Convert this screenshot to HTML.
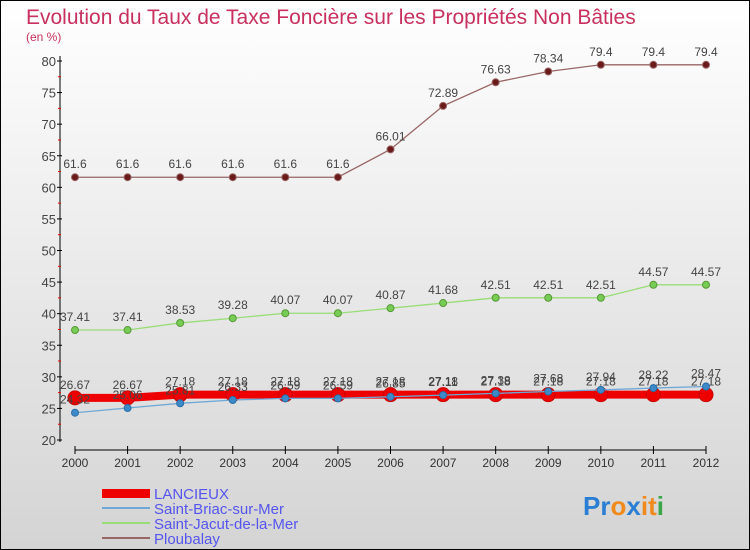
<!DOCTYPE html>
<html><head><meta charset="utf-8"><style>
body{margin:0;width:750px;height:550px;overflow:hidden;font-family:"Liberation Sans",sans-serif}
svg{display:block}
</style></head><body>
<svg width="750" height="550" id="c">
<defs><linearGradient id="bg" x1="0" y1="0" x2="0" y2="1"><stop offset="0" stop-color="#ffffff"/><stop offset="1" stop-color="#d4d4d4"/></linearGradient></defs>
<rect x="0.5" y="0.5" width="749" height="549" fill="url(#bg)" stroke="#000"/>
<text x="26" y="24" font-size="21" fill="#c8305e">Evolution du Taux de Taxe Foncière sur les Propriétés Non Bâties</text>
<text x="26" y="41" font-size="12" fill="#c8305e">(en %)</text>
<g id="axes"></g><g id="series"></g>
<g>
<rect x="102" y="489" width="48" height="9" fill="#e00"/>
<text x="154" y="499" font-size="15" fill="#5555ee">LANCIEUX</text>
<rect x="102" y="507" width="48" height="2" fill="#6fa8d6"/>
<text x="154" y="514" font-size="15" fill="#5555ee">Saint-Briac-sur-Mer</text>
<rect x="102" y="522" width="48" height="2" fill="#99dd77"/>
<text x="154" y="529" font-size="15" fill="#5555ee">Saint-Jacut-de-la-Mer</text>
<rect x="102" y="537" width="48" height="2" fill="#996666"/>
<text x="154" y="544" font-size="15" fill="#5555ee">Ploubalay</text>
</g>
<text x="583" y="515" font-size="26" font-weight="bold"><tspan fill="#2a7fd4">Pr</tspan><tspan fill="#f08a1c">o</tspan><tspan fill="#2a7fd4">x</tspan><tspan fill="#f08a1c">i</tspan><tspan fill="#f08a1c">t</tspan><tspan fill="#3aa64a">i</tspan></text>
</svg>
<script>
const years=[2000,2001,2002,2003,2004,2005,2006,2007,2008,2009,2010,2011,2012];
const yTicks=[20,25,30,35,40,45,50,55,60,65,70,75,80];
const lancieux=[26.67,26.67,27.18,27.18,27.18,27.18,27.18,27.18,27.18,27.18,27.18,27.18,27.18];
const stBriac=[24.32,25.06,25.81,26.33,26.59,26.59,26.85,27.11,27.38,27.68,27.94,28.22,28.47];
const stJacut=[37.41,37.41,38.53,39.28,40.07,40.07,40.87,41.68,42.51,42.51,42.51,44.57,44.57];
const ploubalay=[61.6,61.6,61.6,61.6,61.6,61.6,66.01,72.89,76.63,78.34,79.4,79.4,79.4];
const NS="http://www.w3.org/2000/svg";
const X=i=>75+i*(706-75)/(years.length-1);
const Y=v=>440-(v-20)*(440-61)/60;
function mk(t,a,p){const e=document.createElementNS(NS,t);for(const k in a)e.setAttribute(k,a[k]);p.appendChild(e);return e;}
const ax=document.getElementById('axes');
let l=mk('line',{x1:60,y1:56,x2:60,y2:442,stroke:'#000'},ax);


l=mk('line',{x1:75,y1:450,x2:706,y2:450,stroke:'#000'},ax);


yTicks.forEach(v=>{
 mk('line',{x1:57,x2:62,y1:Y(v),y2:Y(v),stroke:'#000'},ax);
 if(v<80)mk('line',{x1:58,x2:61,y1:Y(v+2.5),y2:Y(v+2.5),stroke:'#e00'},ax);
 const t=mk('text',{x:56,y:Y(v)+5,'font-size':13,'text-anchor':'end',fill:'#444'},ax);t.textContent=v;
 
 
});
years.forEach((yr,i)=>{
 mk('line',{x1:X(i),x2:X(i),y1:446,y2:454,stroke:'#000'},ax);
 const t=mk('text',{x:X(i),y:467,'font-size':12,'text-anchor':'middle',fill:'#333'},ax);t.textContent=yr;
 
 
});
const sg=document.getElementById('series');
function series(d,name,color,w,r,dot,dstroke){
 const g=mk('g',{},sg);
 
 
 const p=mk('polyline',{points:d.map((v,i)=>X(i)+','+Y(v)).join(' '),fill:'none',stroke:color,'stroke-width':w},g);
 
 
 d.forEach((v,i)=>{
  const c=mk('circle',{cx:X(i),cy:Y(v),r:r,fill:dot,stroke:dstroke,'stroke-width':1},g);
  
  
  const t=mk('text',{x:X(i),y:Y(v)-9,'font-size':12,'text-anchor':'middle',fill:'#444'},g);t.textContent=v;
  
  
 });
}
series(ploubalay,'ploubalay','#996666',1.3,3.5,'#6b1a1a','#996666');
series(stJacut,'saint-jacut','#99dd77',1.3,3.5,'#77cc55','#559933');
series(lancieux,'lancieux','#ee0000',8,7,'#ee0000','#cc0000');
series(stBriac,'saint-briac','#6fa8d6',1.3,3.5,'#3d8ac8','#2a6fa8');
</script>
</body></html>
